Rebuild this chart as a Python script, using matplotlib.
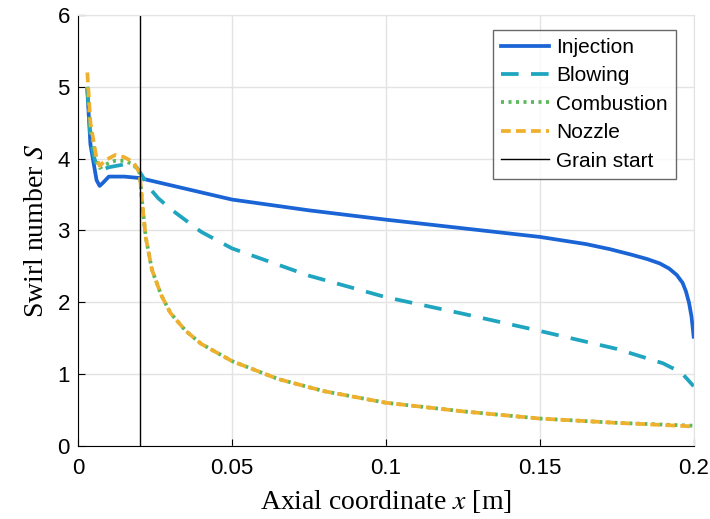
import numpy as np
import matplotlib.pyplot as plt

plt.rcParams['font.family'] = ['Liberation Sans', 'DejaVu Sans']
plt.rcParams['mathtext.fontset'] = 'stix'

x_inj = [0.003, 0.004, 0.005, 0.006, 0.007, 0.008, 0.01, 0.015, 0.02, 0.025, 0.035, 0.05, 0.075,
         0.1, 0.125, 0.15, 0.165, 0.1727, 0.18, 0.185, 0.189, 0.192, 0.1945, 0.1964, 0.1975,
         0.1985, 0.1993, 0.2]
s_inj = [4.95, 4.2, 3.95, 3.7, 3.62, 3.66, 3.75, 3.75, 3.73, 3.68, 3.58, 3.43, 3.28,
         3.15, 3.03, 2.91, 2.81, 2.74, 2.66, 2.6, 2.54, 2.47, 2.38, 2.27, 2.15,
         1.99, 1.8, 1.52]

x_blow = [0.003, 0.004, 0.005, 0.006, 0.008, 0.01, 0.015, 0.019, 0.021, 0.023, 0.026, 0.03, 0.04,
          0.05, 0.075, 0.1, 0.125, 0.15, 0.175, 0.19, 0.196, 0.2]
s_blow = [5.0, 4.3, 4.05, 3.9, 3.85, 3.88, 3.92, 3.88, 3.75, 3.6, 3.45, 3.3, 2.98,
          2.75, 2.37, 2.07, 1.84, 1.6, 1.35, 1.15, 1.02, 0.83]

x_noz = [0.003, 0.004, 0.005, 0.006, 0.007, 0.009, 0.012, 0.015, 0.018, 0.02, 0.021, 0.022, 0.024,
         0.027, 0.03, 0.035, 0.04, 0.05, 0.065, 0.08, 0.1, 0.125, 0.15, 0.175, 0.2]
s_noz = [5.2, 4.5, 4.25, 4.0, 3.9, 3.98, 4.05, 4.02, 3.95, 3.8, 3.3, 2.9, 2.45,
         2.1, 1.85, 1.6, 1.42, 1.18, 0.93, 0.76, 0.6, 0.48, 0.38, 0.32, 0.27]
s_comb = [5.0, 4.4, 4.2, 3.95, 3.87, 3.92, 3.97, 3.97, 3.92, 3.8, 3.3, 2.9, 2.45,
          2.1, 1.85, 1.6, 1.42, 1.18, 0.93, 0.76, 0.6, 0.48, 0.38, 0.32, 0.28]

grain_start = 0.02

fig = plt.figure(figsize=(7.1, 5.19), dpi=100)
ax = fig.add_axes([0.11, 0.141, 0.867, 0.83])

lw = 2.7
ax.plot(x_inj, s_inj, color='#1a64d6', lw=lw, label='Injection')
ax.plot(x_blow, s_blow, color='#1fa5c0', lw=lw, ls=(0, (4.7, 3.3)), label='Blowing')
ax.plot(x_noz, s_comb, color='#5cb85c', lw=lw, ls=(0, (0.8, 1.2)), label='Combustion')
ax.plot(x_noz, s_noz, color='#efb02e', lw=lw, ls=(0, (2.6, 1.4)), label='Nozzle')
ax.axvline(grain_start, color='black', lw=1, label='Grain start')

ax.set_xlim(0, 0.2)
ax.set_ylim(0, 6)
ax.set_xticks([0, 0.05, 0.1, 0.15, 0.2])
ax.set_xticklabels(['0', '0.05', '0.1', '0.15', '0.2'])
ax.set_yticks(range(7))
ax.grid(True, color='#e3e3e3', lw=1)
ax.set_axisbelow(True)
for s in ['top', 'right']:
    ax.spines[s].set_color('#e3e3e3')
ax.tick_params(direction='in', labelsize=16, length=5)
ax.tick_params(axis='x', pad=9)
ax.tick_params(axis='y', pad=6)
ax.set_xlabel('Axial coordinate $x$ [m]', fontsize=20, family='Liberation Serif', labelpad=6)
ax.set_ylabel('Swirl number $S$', fontsize=20, family='Liberation Serif', labelpad=6)

leg = ax.legend(loc='upper right', bbox_to_anchor=(0.971, 0.966), fontsize=15, fancybox=False,
                edgecolor='#444444', borderaxespad=0.0, handlelength=2.3, handletextpad=0.33,
                labelspacing=0.45, borderpad=0.4)
leg.get_frame().set_linewidth(1)

fig.savefig('out.png', dpi=100)
